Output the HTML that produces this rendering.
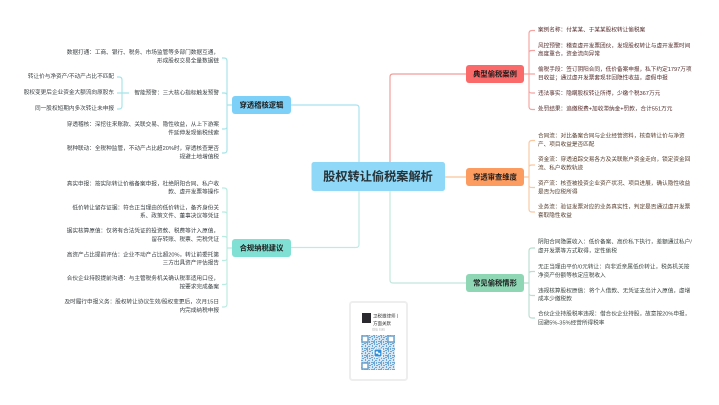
<!DOCTYPE html>
<html lang="zh">
<head>
<meta charset="utf-8">
<title>股权转让偷税案解析</title>
<style>
html,body{margin:0;padding:0;width:719px;height:405px;background:#fff;overflow:hidden}
svg{display:block;filter:blur(.3px)}
text{font-family:"Liberation Sans","Noto Sans CJK SC",sans-serif;dominant-baseline:central}
.l text{font-size:5.65px;text-anchor:end}
.r text{font-size:5.65px;text-anchor:start}
.n{font-size:7.3px;font-weight:700;fill:#1c1c1c;text-anchor:middle}
path{fill:none;stroke-width:1.15}
</style>
</head>
<body>
<svg width="719" height="405" viewBox="0 0 719 405" xmlns="http://www.w3.org/2000/svg">
<defs>
<pattern id="qr" width="7" height="7" patternUnits="userSpaceOnUse">
<rect width="7" height="7" fill="#d6e6f2"/>
<g fill="#6fa8d4">
<rect x="0" y="0" width="2" height="1"/><rect x="3" y="0" width="1" height="2"/><rect x="5" y="1" width="2" height="1"/>
<rect x="1" y="2" width="1" height="2"/><rect x="4" y="3" width="2" height="1"/><rect x="0" y="5" width="3" height="1"/>
<rect x="3" y="4" width="1" height="2"/><rect x="5" y="5" width="1" height="2"/><rect x="2" y="6" width="2" height="1"/>
</g>
</pattern>
</defs>

<!-- main connectors -->
<path stroke="#a9e2f0" d="M291 105H356q3 0 3 3V162"/>
<path stroke="#f19c96" d="M466 74H393q-3 0-3 3V162"/>
<path stroke="#fbc39a" d="M445 177H466"/>
<path stroke="#bfe9e2" d="M291 247.500H356q3 0 3-3V191"/>
<path stroke="#c0e7dc" d="M466 283H393q-3 0-3-3V191"/>

<!-- left brackets -->
<path stroke="#a5e3e8" d="M222 58h2q3 0 3 3V150q0 3-3 3h-2M222 93h2q3 0 3 2M222 129h2q3 0 3-2M227 105h5"/>
<path stroke="#a5e3e8" d="M117 77h2q3 0 3 3V106q0 3-3 3h-2M117 93H129"/>
<path stroke="#b9ebdf" d="M222 188h2q3 0 3 3V304q0 3-3 3h-2M222 212h2q3 0 3 2M222 236.500h2q3 0 3 2M222 260.500h2q3 0 3-2M222 284.500h2q3 0 3-2M227 248h5"/>

<!-- right brackets -->
<path stroke="#f4a3a0" d="M535 30.500h-3q-3 0-3 3V106.500q0 3 3 3h3M535 50.500h-3q-3 0-3 2M524 74H535M535 93h-3q-3 0-3-2"/>
<path stroke="#fac79f" d="M535 140.500h-3q-3 0-3 3V209q0 3 3 3h3M535 165h-3q-3 0-3 2M524 177h5M535 187.500h-3q-3 0-3-2"/>
<path stroke="#b8dfcf" d="M535 248h-3q-3 0-3 3V315q0 3 3 3h3M535 271.500h-3q-3 0-3 2M524 283h5M535 295.500h-3q-3 0-3-2"/>

<!-- nodes -->
<rect x="311.500" y="162" width="133.500" height="29" rx="2.500" fill="#8fd8f8"/>
<text x="378" y="176.500" text-anchor="middle" font-size="12.200" font-weight="700" fill="#263238">股权转让偷税案解析</text>

<rect x="232" y="96" width="59" height="18" rx="3" fill="#7dd0f8"/>
<text class="n" x="261.500" y="105">穿透稽核逻辑</text>
<rect x="232" y="239" width="59" height="18" rx="3" fill="#80e0d3"/>
<text class="n" x="261.500" y="248">合规纳税建议</text>
<rect x="466" y="65" width="58" height="18" rx="3" fill="#fb6a6a"/>
<text class="n" x="495" y="74">典型偷税案例</text>
<rect x="466" y="168" width="58" height="18" rx="3" fill="#fd9c60"/>
<text class="n" x="495" y="177">穿透审查维度</text>
<rect x="466" y="274" width="58" height="18" rx="3" fill="#8ed6b4"/>
<text class="n" x="495" y="283">常见偷税情形</text>

<!-- left text 1 -->
<g class="l" fill="#3a4043">
<text x="219" y="53">数据打通：工商、银行、税务、市场监管等多部门数据互通，</text>
<text x="219" y="61.300">形成股权交易全量数据链</text>
<text x="219" y="93.300">智能预警：三大核心指标触发预警</text>
<text x="114" y="77">转让价与净资产/不动产占比不匹配</text>
<text x="114" y="93">股权变更后企业资金大额流向原股东</text>
<text x="114" y="109">同一股权短期内多次转让未申报</text>
<text x="219" y="125">穿透稽核：深挖往来账款、关联交易、隐性收益，从上下游案</text>
<text x="219" y="133.300">件延伸发现偷税线索</text>
<text x="219" y="149">税种联动：全税种监管，不动产占比超20%时，穿透核查是否</text>
<text x="219" y="157.300">规避土地增值税</text>
</g>

<!-- left text 2 -->
<g class="l" fill="#3a4043">
<text x="219" y="184.300">真实申报：按实际转让价格备案申报，杜绝阴阳合同、私户收</text>
<text x="219" y="192.300">款、虚开发票等操作</text>
<text x="219" y="208.300">低价转让留存证据：符合正当理由的低价转让，备齐身份关</text>
<text x="219" y="216.300">系、政策文件、董事决议等凭证</text>
<text x="219" y="231.700">据实核算原值：仅将有合法凭证的投资款、税费等计入原值，</text>
<text x="219" y="240">留存转账、税票、完税凭证</text>
<text x="219" y="255.300">高资产占比提前评估：企业不动产占比超20%，转让前委托第</text>
<text x="219" y="263.300">三方出具资产评估报告</text>
<text x="219" y="279">合伙企业持股提前沟通：与主管税务机关确认税率适用口径，</text>
<text x="219" y="287.300">按要求完成备案</text>
<text x="219" y="302.700">及时履行申报义务：股权转让协议生效/股权变更后，次月15日</text>
<text x="219" y="311">内完成纳税申报</text>
</g>

<!-- right text 1 -->
<g class="r" fill="#552c2c">
<text x="538" y="30.700">案例名称：付某某、于某某股权转让偷税案</text>
<text x="538" y="46.300">风控预警：稽查虚开发票团伙，发现股权转让与虚开发票时间</text>
<text x="538" y="54.700">高度重合，资金流向异常</text>
<text x="538" y="70">偷税手段：签订阴阳合同，低价备案申报，私下约定1797万项</text>
<text x="538" y="78.300">目收益；通过虚开发票套现非回隐性收益，虚假申报</text>
<text x="538" y="94">违法事实：隐瞒股权转让所得，少缴个税367万元</text>
<text x="538" y="109.700">处罚结果：追缴税费+加收滞纳金+罚款，合计551万元</text>
</g>

<!-- right text 2 -->
<g class="r" fill="#553c2c">
<text x="538" y="136.300">合同流：对比备案合同与企业经营资料，核查转让价与净资</text>
<text x="538" y="145">产、项目收益是否匹配</text>
<text x="538" y="160">资金流：穿透追踪交易各方及关联账户资金走向，锁定资金回</text>
<text x="538" y="168.700">流、私户收款轨迹</text>
<text x="538" y="184">资产流：核查被投资企业资产状况、项目进展，确认隐性收益</text>
<text x="538" y="192.300">是否为应税所得</text>
<text x="538" y="207.300">业务流：验证发票对应的业务真实性，判定是否通过虚开发票</text>
<text x="538" y="216">套取隐性收益</text>
</g>

<!-- right text 3 -->
<g class="r" fill="#3c4642">
<text x="538" y="242.700">阴阳合同隐匿收入：低价备案、高价私下执行，差额通过私户/</text>
<text x="538" y="251.700">虚开发票等方式取得，定性偷税</text>
<text x="538" y="267.700">无正当理由平价/0元转让：向非近亲属低价转让，税务机关按</text>
<text x="538" y="276">净资产份额等核定应税收入</text>
<text x="538" y="291.300">违规核算股权原值：将个人借款、无凭证支出计入原值，虚增</text>
<text x="538" y="299.700">成本少缴税款</text>
<text x="538" y="314.300">合伙企业持股税率违规：借合伙企业持股，故意按20%申报，</text>
<text x="538" y="323.300">回避5%-35%经营所得税率</text>
</g>

<!-- QR card -->
<rect x="350" y="302" width="57" height="78" rx="2.500" fill="#fff" stroke="#eeeeee" stroke-width="2"/>
<rect x="362" y="313" width="9" height="10" fill="#2a2a2e"/>
<text x="373" y="316" font-size="4.500" fill="#333">卫税邀律师丨</text>
<text x="373" y="323.500" font-size="4.500" fill="#333">方面关默</text>
<text x="372" y="329.500" font-size="3" fill="#bbb">微信 扫码</text>
<rect x="361" y="335" width="34" height="35" fill="url(#qr)"/>
<g fill="#fff" stroke="#6fa3cc" stroke-width="1.500">
<rect x="362" y="336" width="6" height="6"/>
<rect x="388" y="336" width="6" height="6"/>
<rect x="362" y="363" width="6" height="6"/>
</g>
<rect x="373.500" y="348.500" width="9" height="9" rx="1" fill="#fff"/>
<rect x="374.500" y="349.500" width="7" height="7" rx="1" fill="#2f8fd8"/>
<circle cx="377" cy="352.500" r="1.300" fill="#fff"/>
<circle cx="379.200" cy="353.800" r="1.100" fill="#fff"/>
</svg>
</body>
</html>
